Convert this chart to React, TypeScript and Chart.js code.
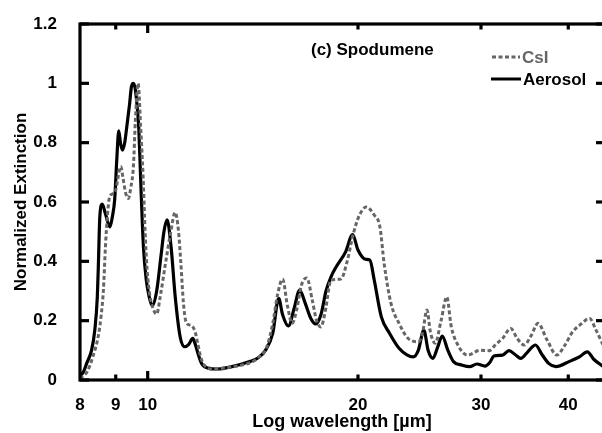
import React, { useEffect, useRef } from "react";
import { Chart, registerables } from "chart.js";

Chart.register(...registerables);

const xTickValues = [8, 9, 10, 20, 30, 40];
const majorXTicks = [10];
const yTickValues = [0, 0.2, 0.4, 0.6, 0.8, 1, 1.2];

const csiWavelength = [
  8.0, 8.2, 8.35, 8.5, 8.58, 8.64, 8.7, 8.76, 8.82, 8.92, 9.0, 9.08, 9.15, 9.22, 9.3, 9.38,
  9.46, 9.54, 9.6, 9.69, 9.77, 9.85, 9.9, 9.96, 10.05, 10.15, 10.3, 10.42, 10.6, 10.78, 10.95,
  11.07, 11.15, 11.25, 11.35, 11.5, 11.6, 11.7, 11.8, 11.9, 12.05, 12.4, 13.0, 13.5, 14.0, 14.4,
  14.8, 15.1, 15.35, 15.6, 15.85, 16.1, 16.35, 16.6, 16.9, 17.2, 17.45, 17.7, 17.95, 18.3, 18.9,
  19.3, 19.7, 20.1, 20.55, 21.1, 21.5, 21.8, 22.3, 22.9, 23.6, 24.4, 24.75, 25.1, 25.4, 25.8,
  26.3, 26.8, 27.2, 27.8, 28.7, 29.9, 30.8, 31.5, 32.2, 33.1, 33.8, 34.6, 35.4, 36.2, 37.3,
  38.5, 39.5, 40.6, 41.8, 42.9, 43.8, 44.9, 45.5,
];
const csiValue = [
  0.005, 0.03, 0.08, 0.15, 0.22, 0.3, 0.45, 0.56, 0.617, 0.628, 0.64, 0.69, 0.72, 0.68, 0.63, 0.612,
  0.65, 0.72, 0.87, 1.0, 0.853, 0.685, 0.54, 0.404, 0.3, 0.25, 0.222, 0.28, 0.39, 0.494, 0.565,
  0.5, 0.4, 0.26, 0.195, 0.185, 0.18, 0.16, 0.12, 0.08, 0.05, 0.037, 0.042, 0.048, 0.058, 0.075,
  0.11, 0.19, 0.29, 0.34, 0.25, 0.191, 0.24, 0.32, 0.344, 0.27, 0.2, 0.179, 0.23, 0.337, 0.34,
  0.4, 0.494, 0.556, 0.583, 0.556, 0.516, 0.393, 0.258, 0.191, 0.14, 0.129, 0.16, 0.236, 0.16, 0.124,
  0.2, 0.28, 0.18, 0.118, 0.084, 0.1, 0.099, 0.12, 0.14, 0.174, 0.14, 0.118, 0.15, 0.191, 0.135,
  0.084, 0.115, 0.163, 0.19, 0.208, 0.17, 0.118, 0.1,
];

const aerosolWavelength = [
  8.0, 8.1, 8.18, 8.31, 8.4, 8.47, 8.5, 8.54, 8.61, 8.7, 8.83, 8.9, 8.97, 9.03, 9.09, 9.14, 9.2,
  9.27, 9.33, 9.42, 9.48, 9.54, 9.6, 9.66, 9.71, 9.78, 9.86, 9.95, 10.05, 10.15, 10.3, 10.45,
  10.55, 10.66, 10.8, 10.95, 11.13, 11.3, 11.45, 11.6, 11.7, 11.8, 11.95, 12.2, 12.6, 13.2, 14.0,
  14.4, 14.74, 15.1, 15.4, 15.6, 15.9, 16.2, 16.5, 16.8, 17.1, 17.4, 17.7, 18.0, 18.3, 18.6, 19.2,
  19.65, 20.0, 20.5, 20.8, 21.1, 21.6, 22.2, 22.9, 23.5, 24.0, 24.4, 24.85, 25.2, 25.6, 26.0,
  26.4, 26.9, 27.4, 28.2, 28.9, 29.6, 30.4, 30.9, 31.3, 32.2, 32.9, 33.6, 34.2, 35.0, 35.9, 36.7,
  37.5, 38.4, 40.1, 41.5, 42.6, 43.5, 44.9, 45.5,
];
const aerosolValue = [
  0.01, 0.03, 0.057, 0.1, 0.168, 0.28, 0.39, 0.55, 0.593, 0.56, 0.516, 0.55, 0.61, 0.74, 0.84, 0.8,
  0.775, 0.8, 0.85, 0.93, 0.99, 1.0, 0.98, 0.92, 0.85, 0.65, 0.45, 0.34, 0.28, 0.25, 0.3, 0.42,
  0.5, 0.54, 0.45, 0.28, 0.145, 0.112, 0.12, 0.14, 0.12, 0.09, 0.055, 0.04, 0.037, 0.045, 0.062,
  0.075, 0.1, 0.157, 0.275, 0.22, 0.182, 0.24, 0.303, 0.26, 0.21, 0.189, 0.22, 0.3, 0.348, 0.38, 0.432,
  0.49, 0.438, 0.407, 0.404, 0.337, 0.213, 0.157, 0.107, 0.085, 0.078, 0.1, 0.168, 0.1, 0.073, 0.11,
  0.148, 0.1, 0.062, 0.05, 0.045, 0.054, 0.047, 0.06, 0.081, 0.084, 0.099, 0.085, 0.073, 0.095, 0.118, 0.085,
  0.056, 0.045, 0.062, 0.078, 0.095, 0.07, 0.045, 0.035,
];

const FONT = "'Liberation Sans', Arial, Helvetica, sans-serif";
const GRAY = "#666666";

const framePlugin = {
  id: "frameAndLabels",
  afterDatasetsDraw(chart: any) {
    const { ctx, chartArea: a, scales } = chart;
    ctx.save();
    ctx.strokeStyle = "#000";
    ctx.lineWidth = 3.2;
    ctx.lineCap = "butt";
    ctx.setLineDash([]);
    ctx.strokeRect(a.left, a.top, a.right - a.left, a.bottom - a.top);
    const seg = (x1: number, y1: number, x2: number, y2: number) => {
      ctx.beginPath();
      ctx.moveTo(x1, y1);
      ctx.lineTo(x2, y2);
      ctx.stroke();
    };
    for (const v of yTickValues) {
      const y = scales.y.getPixelForValue(v);
      seg(a.left, y, a.left + 9, y);
      seg(a.right - 8, y, a.right, y);
    }
    for (const v of xTickValues) {
      if (v === 8) continue;
      const x = scales.x.getPixelForValue(v);
      const len = majorXTicks.includes(v) ? 9 : 5.5;
      seg(x, a.bottom, x, a.bottom - len);
      seg(x, a.top, x, a.top + len);
    }
    ctx.font = `bold 17px ${FONT}`;
    ctx.textBaseline = "middle";
    ctx.textAlign = "left";
    ctx.fillStyle = "#000";
    ctx.fillText("(c) Spodumene", 311, 50);
    // legend
    const ds = chart.data.datasets;
    ctx.lineWidth = 3;
    ctx.strokeStyle = ds[0].borderColor;
    ctx.setLineDash(ds[0].borderDash);
    seg(492, 57, 520, 57);
    ctx.setLineDash([]);
    ctx.fillStyle = ds[0].borderColor;
    ctx.fillText(ds[0].label, 522, 58);
    ctx.strokeStyle = ds[1].borderColor;
    seg(491, 79, 521, 79);
    ctx.fillStyle = ds[1].borderColor;
    ctx.fillText(ds[1].label, 523, 80);
    ctx.restore();
  },
};

export default function App() {
  const ref = useRef<HTMLCanvasElement>(null);
  useEffect(() => {
    document.body.style.margin = "0";
    const canvas = ref.current!;
    const chart = new Chart(canvas, {
      type: "line",
      data: {
        datasets: [
          {
            label: "CsI",
            data: csiWavelength.map((x, i) => ({ x, y: csiValue[i] })),
            borderColor: GRAY,
            borderWidth: 3,
            borderDash: [4, 2.5],
            pointRadius: 0,
            cubicInterpolationMode: "monotone",
            fill: false,
          },
          {
            label: "Aerosol",
            data: aerosolWavelength.map((x, i) => ({ x, y: aerosolValue[i] })),
            borderColor: "#000000",
            borderWidth: 3.2,
            pointRadius: 0,
            cubicInterpolationMode: "monotone",
            fill: false,
          },
        ],
      },
      options: {
        animation: false,
        responsive: false,
        devicePixelRatio: 1,
        layout: { padding: { top: 24, right: 6, bottom: 0, left: 0 } },
        plugins: { legend: { display: false }, tooltip: { enabled: false } },
        scales: {
          x: {
            type: "logarithmic",
            min: 8,
            max: 45,
            grid: { display: false, drawTicks: false },
            border: { display: false },
            afterBuildTicks: (scale: any) => {
              scale.ticks = xTickValues.map((value) => ({ value }));
            },
            afterFit: (scale: any) => {
              scale.height = 53;
              scale.paddingRight = 0;
              scale.paddingLeft = 0;
            },
            ticks: {
              autoSkip: false,
              maxRotation: 0,
              padding: 15,
              color: "#000",
              font: { family: FONT, size: 17, weight: "bold" },
              callback: (v: any) => String(v),
            },
            title: {
              display: true,
              text: "Log wavelength [µm]",
              color: "#000",
              font: { family: FONT, size: 18, weight: "bold" },
              padding: { top: 0, bottom: 0 },
            },
          },
          y: {
            min: 0,
            max: 1.2,
            grid: { display: false, drawTicks: false },
            border: { display: false },
            afterBuildTicks: (scale: any) => {
              scale.ticks = yTickValues.map((value) => ({ value }));
            },
            afterFit: (scale: any) => {
              scale.width = 80;
              scale.paddingTop = 0;
              scale.paddingBottom = 0;
            },
            ticks: {
              padding: 23,
              color: "#000",
              font: { family: FONT, size: 17, weight: "bold" },
              callback: (v: any) => String(Math.round(v * 10) / 10),
            },
            title: {
              display: true,
              text: "Normalized Extinction",
              color: "#000",
              font: { family: FONT, size: 17, weight: "bold" },
              padding: { top: 11, bottom: 0 },
            },
          },
        },
      },
      plugins: [framePlugin],
    } as any);
    return () => chart.destroy();
  }, []);
  return (
    <div style={{ position: "fixed", left: 0, top: 0, width: 602, height: 433, overflow: "hidden", background: "#fff" }}>
      <canvas ref={ref} width={610} height={433} style={{ display: "block", width: 610, height: 433 }} />
    </div>
  );
}
